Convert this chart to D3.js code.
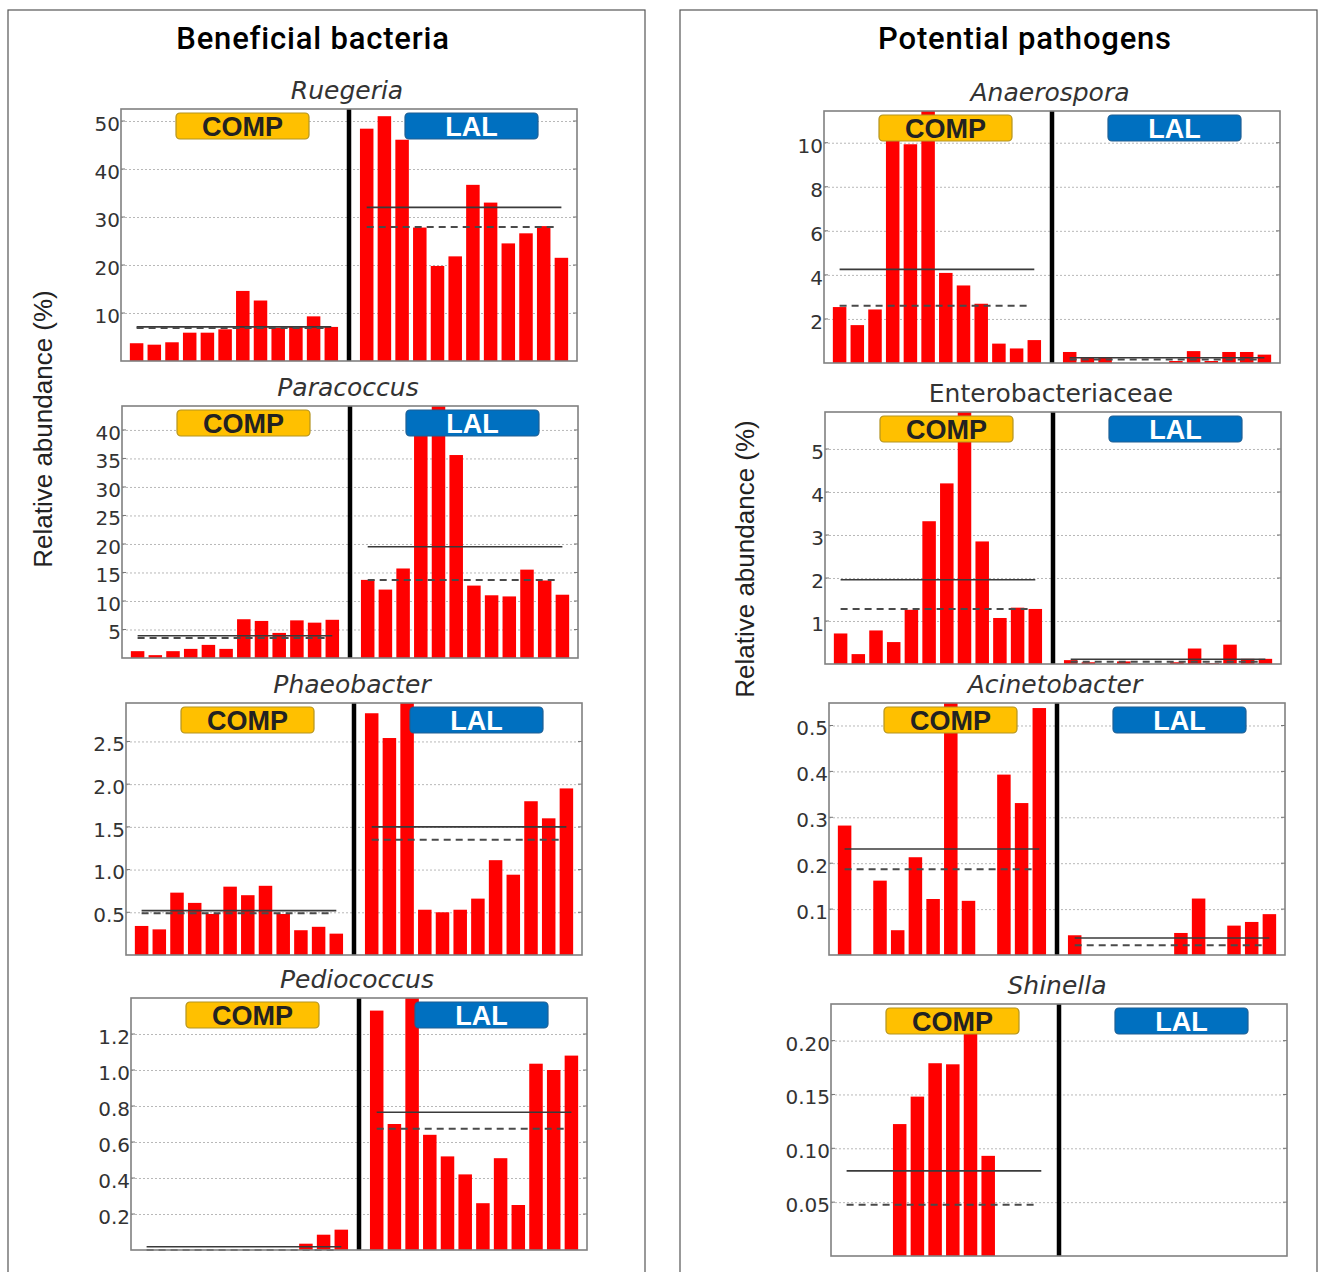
<!DOCTYPE html>
<html><head><meta charset="utf-8">
<script src="https://cdn.jsdelivr.net/npm/d3@7"></script>
<style>body{margin:0;background:#fff}</style>
</head><body><svg id="c" width="1319" height="1272"></svg>
<script>
// ---------- data ----------
const panelTitles = ["Beneficial bacteria", "Potential pathogens"];
const yAxisLabel = "Relative abundance (%)";
const groups = ["COMP", "LAL"];
const taxa = ["Ruegeria", "Paracoccus", "Phaeobacter", "Pediococcus",
              "Anaerospora", "Enterobacteriaceae", "Acinetobacter", "Shinella"];
const italicTitle = [true, true, true, true, true, false, true, true];

const compValues = [
  [3.7, 3.4, 3.9, 5.9, 5.9, 6.6, 14.6, 12.6, 6.9, 7.2, 9.3, 7.1],
  [1.2, 0.5, 1.2, 1.6, 2.3, 1.6, 6.8, 6.5, 4.4, 6.6, 6.2, 6.7],
  [0.34, 0.30, 0.73, 0.61, 0.48, 0.80, 0.70, 0.81, 0.48, 0.29, 0.33, 0.25],
  [0, 0, 0, 0, 0, 0, 0, 0, 0, 0.035, 0.085, 0.113],
  [2.54, 1.72, 2.43, 10.4, 9.93, 11.5, 4.09, 3.52, 2.69, 0.88, 0.66, 1.04],
  [0.71, 0.23, 0.78, 0.51, 1.26, 3.32, 4.20, 6.0, 2.85, 1.07, 1.31, 1.28],
  [0.282, 0, 0.162, 0.054, 0.213, 0.122, 0.56, 0.118, 0, 0.393, 0.331, 0.538],
  [0, 0, 0, 0.1225, 0.148, 0.179, 0.178, 0.225, 0.093, 0, 0, 0]
];
const lalValues = [
  [48.4, 51, 46.1, 27.8, 19.8, 21.8, 36.7, 33.0, 24.5, 26.6, 28.1, 21.5],
  [13.7, 12.0, 15.7, 39.5, 45, 35.6, 12.7, 11.0, 10.8, 15.5, 13.6, 11.1],
  [2.83, 2.54, 3.05, 0.53, 0.50, 0.53, 0.66, 1.11, 0.94, 1.80, 1.60, 1.95],
  [1.33, 0.70, 1.43, 0.64, 0.52, 0.42, 0.26, 0.51, 0.25, 1.035, 1.0, 1.08],
  [0.5, 0.23, 0.23, 0, 0, 0, 0.09, 0.54, 0.09, 0.5, 0.5, 0.38],
  [0.09, 0.04, 0, 0.06, 0, 0, 0.04, 0.36, 0.02, 0.45, 0.12, 0.12],
  [0.043, 0, 0, 0, 0, 0, 0.048, 0.123, 0, 0.064, 0.072, 0.089],
  [0, 0, 0, 0, 0, 0, 0, 0, 0, 0, 0, 0]
];
// [COMP, LAL]  solid = mean, dashed = median
const meanValues = [[7.1, 32.0], [3.9, 19.5], [0.52, 1.50], [0.018, 0.765],
                    [4.25, 0.24], [1.96, 0.11], [0.231, 0.037], [0.079, null]];
const medianValues = [[6.9, 27.9], [3.5, 13.7], [0.49, 1.35], [0, 0.673],
                      [2.6, 0.16], [1.28, 0.05], [0.187, 0.021], [0.0475, null]];
const yMax = [52.5, 44.2, 2.95, 1.40, 11.44, 5.86, 0.549, 0.234];
const yTicks = [
  [10, 20, 30, 40, 50],
  [5, 10, 15, 20, 25, 30, 35, 40],
  [0.5, 1.0, 1.5, 2.0, 2.5],
  [0.2, 0.4, 0.6, 0.8, 1.0, 1.2],
  [2, 4, 6, 8, 10],
  [1, 2, 3, 4, 5],
  [0.1, 0.2, 0.3, 0.4, 0.5],
  [0.05, 0.10, 0.15, 0.20]
];
const tickFormats = ["d", "d", ".1f", ".1f", "d", "d", ".1f", ".2f"];

// ---------- layout ----------
const svg = d3.select("#c");
svg.append("rect").attr("width", 1319).attr("height", 1272).attr("fill", "#fff");

const plotLayout = [
  [121, 109], [122, 406], [126, 703], [131, 998],
  [824, 111], [825, 412], [829, 703], [831, 1004]
];
const PW = 456, PH = 252;

// outer panel boxes + headers
const panelBoxes = [[8, 637, 313], [680, 637, 1025]];
panelBoxes.forEach(([x, w, tx], i) => {
  svg.append("rect").attr("x", x).attr("y", 10).attr("width", w).attr("height", 1320)
    .attr("fill", "none").attr("stroke", "#555").attr("stroke-width", 1.2);
  svg.append("text").attr("x", tx).attr("y", 49)
    .attr("text-anchor", "middle")
    .style("font-family", "Roboto, 'Liberation Sans', sans-serif")
    .style("font-weight", 500).style("font-size", "31px")
    .style("letter-spacing", "0.8px").attr("fill", "#000")
    .text(panelTitles[i]);
});
[[52, 429], [754, 559]].forEach(([x, y]) => {
  svg.append("text").attr("transform", `translate(${x},${y}) rotate(-90)`)
    .attr("text-anchor", "middle")
    .style("font-family", "'Liberation Sans', Arial, sans-serif")
    .style("font-size", "26px").attr("fill", "#222").text(yAxisLabel);
});

const slots = d3.range(25);
const x = d3.scaleBand().domain(slots).range([0, PW]).paddingInner(0.237).paddingOuter(0.5);
const bw = x.bandwidth();
const cx = s => x(s) + bw / 2;

taxa.forEach((name, i) => {
  const [L, T] = plotLayout[i];
  const g = svg.append("g").attr("transform", `translate(${L},${T})`);
  const y = d3.scaleLinear().domain([0, yMax[i]]).range([PH, 0]);

  g.append("rect").attr("width", PW).attr("height", PH).attr("fill", "#fff");

  // grid
  const grid = g.append("g").call(d3.axisRight(y).tickValues(yTicks[i]).tickSize(PW).tickFormat(""));
  grid.select(".domain").remove();
  grid.selectAll("line").attr("stroke", "#b8b8b8").attr("stroke-width", 1).attr("stroke-dasharray", "2,2");
  yTicks[i].forEach(t => {
    g.append("line").attr("x1", 0).attr("x2", 4).attr("y1", y(t)).attr("y2", y(t)).attr("stroke", "#777");
    g.append("line").attr("x1", PW - 4).attr("x2", PW).attr("y1", y(t)).attr("y2", y(t)).attr("stroke", "#777");
  });

  // bars
  const clipId = "clip" + i;
  g.append("clipPath").attr("id", clipId).append("rect").attr("width", PW).attr("height", PH);
  const bars = compValues[i].map((v, k) => ({ slot: k, v }))
    .concat(lalValues[i].map((v, k) => ({ slot: k + 13, v })));
  g.append("g").attr("clip-path", `url(#${clipId})`)
    .selectAll("rect").data(bars.filter(d => d.v > 0)).join("rect")
    .attr("x", d => x(d.slot)).attr("width", bw)
    .attr("y", d => y(d.v)).attr("height", d => PH - y(d.v))
    .attr("fill", "#ff0000");

  // mean (solid) and median (dashed)
  const spans = [[0, 11], [13, 24]];
  spans.forEach(([a, b], gi) => {
    const m = meanValues[i][gi], md = medianValues[i][gi];
    if (m != null) g.append("line").attr("x1", cx(a)).attr("x2", cx(b))
      .attr("y1", y(m)).attr("y2", y(m)).attr("stroke", "#3a3a3a").attr("stroke-width", 1.6);
    if (md != null) g.append("line").attr("x1", cx(a)).attr("x2", cx(b) - 6)
      .attr("y1", y(md)).attr("y2", y(md)).attr("stroke", "#4a4a4a")
      .attr("stroke-width", 2).attr("stroke-dasharray", "7,5");
  });

  // separator
  g.append("line").attr("x1", cx(12)).attr("x2", cx(12)).attr("y1", 0).attr("y2", PH)
    .attr("stroke", "#000").attr("stroke-width", 4.5);

  // frame
  g.append("rect").attr("width", PW).attr("height", PH).attr("fill", "none")
    .attr("stroke", "#808080").attr("stroke-width", 1.6);

  // group labels
  const boxes = [{ x0: 55, fill: "#FFC000", stroke: "#b39320", tc: "#222" },
                 { x0: 284, fill: "#0070C0", stroke: "#1f5f94", tc: "#fff" }];
  boxes.forEach((b, gi) => {
    g.append("rect").attr("x", b.x0).attr("y", 4).attr("width", 133).attr("height", 26)
      .attr("rx", 4).attr("fill", b.fill).attr("stroke", b.stroke).attr("stroke-width", 1.2);
    g.append("text").attr("x", b.x0 + 66.5).attr("y", 26.5).attr("text-anchor", "middle")
      .style("font-family", "'Liberation Sans', Arial, sans-serif").style("font-weight", "bold")
      .style("font-size", "27px").attr("fill", b.tc).text(groups[gi]);
  });

  // y tick labels
  const ax = g.append("g").call(d3.axisLeft(y).tickValues(yTicks[i])
    .tickFormat(d3.format(tickFormats[i])).tickSize(0).tickPadding(1));
  ax.select(".domain").remove();
  ax.selectAll("text").attr("transform", "translate(0,3)")
    .style("font-family", "'DejaVu Sans', sans-serif").style("font-size", "20px").attr("fill", "#333");

  // subplot title
  g.append("text").attr("x", 226).attr("y", -10).attr("text-anchor", "middle")
    .style("font-family", "'DejaVu Sans', sans-serif")
    .style("font-style", italicTitle[i] ? "italic" : "normal")
    .style("font-size", "25px").attr("fill", "#333").text(name);
});
</script></body></html>
